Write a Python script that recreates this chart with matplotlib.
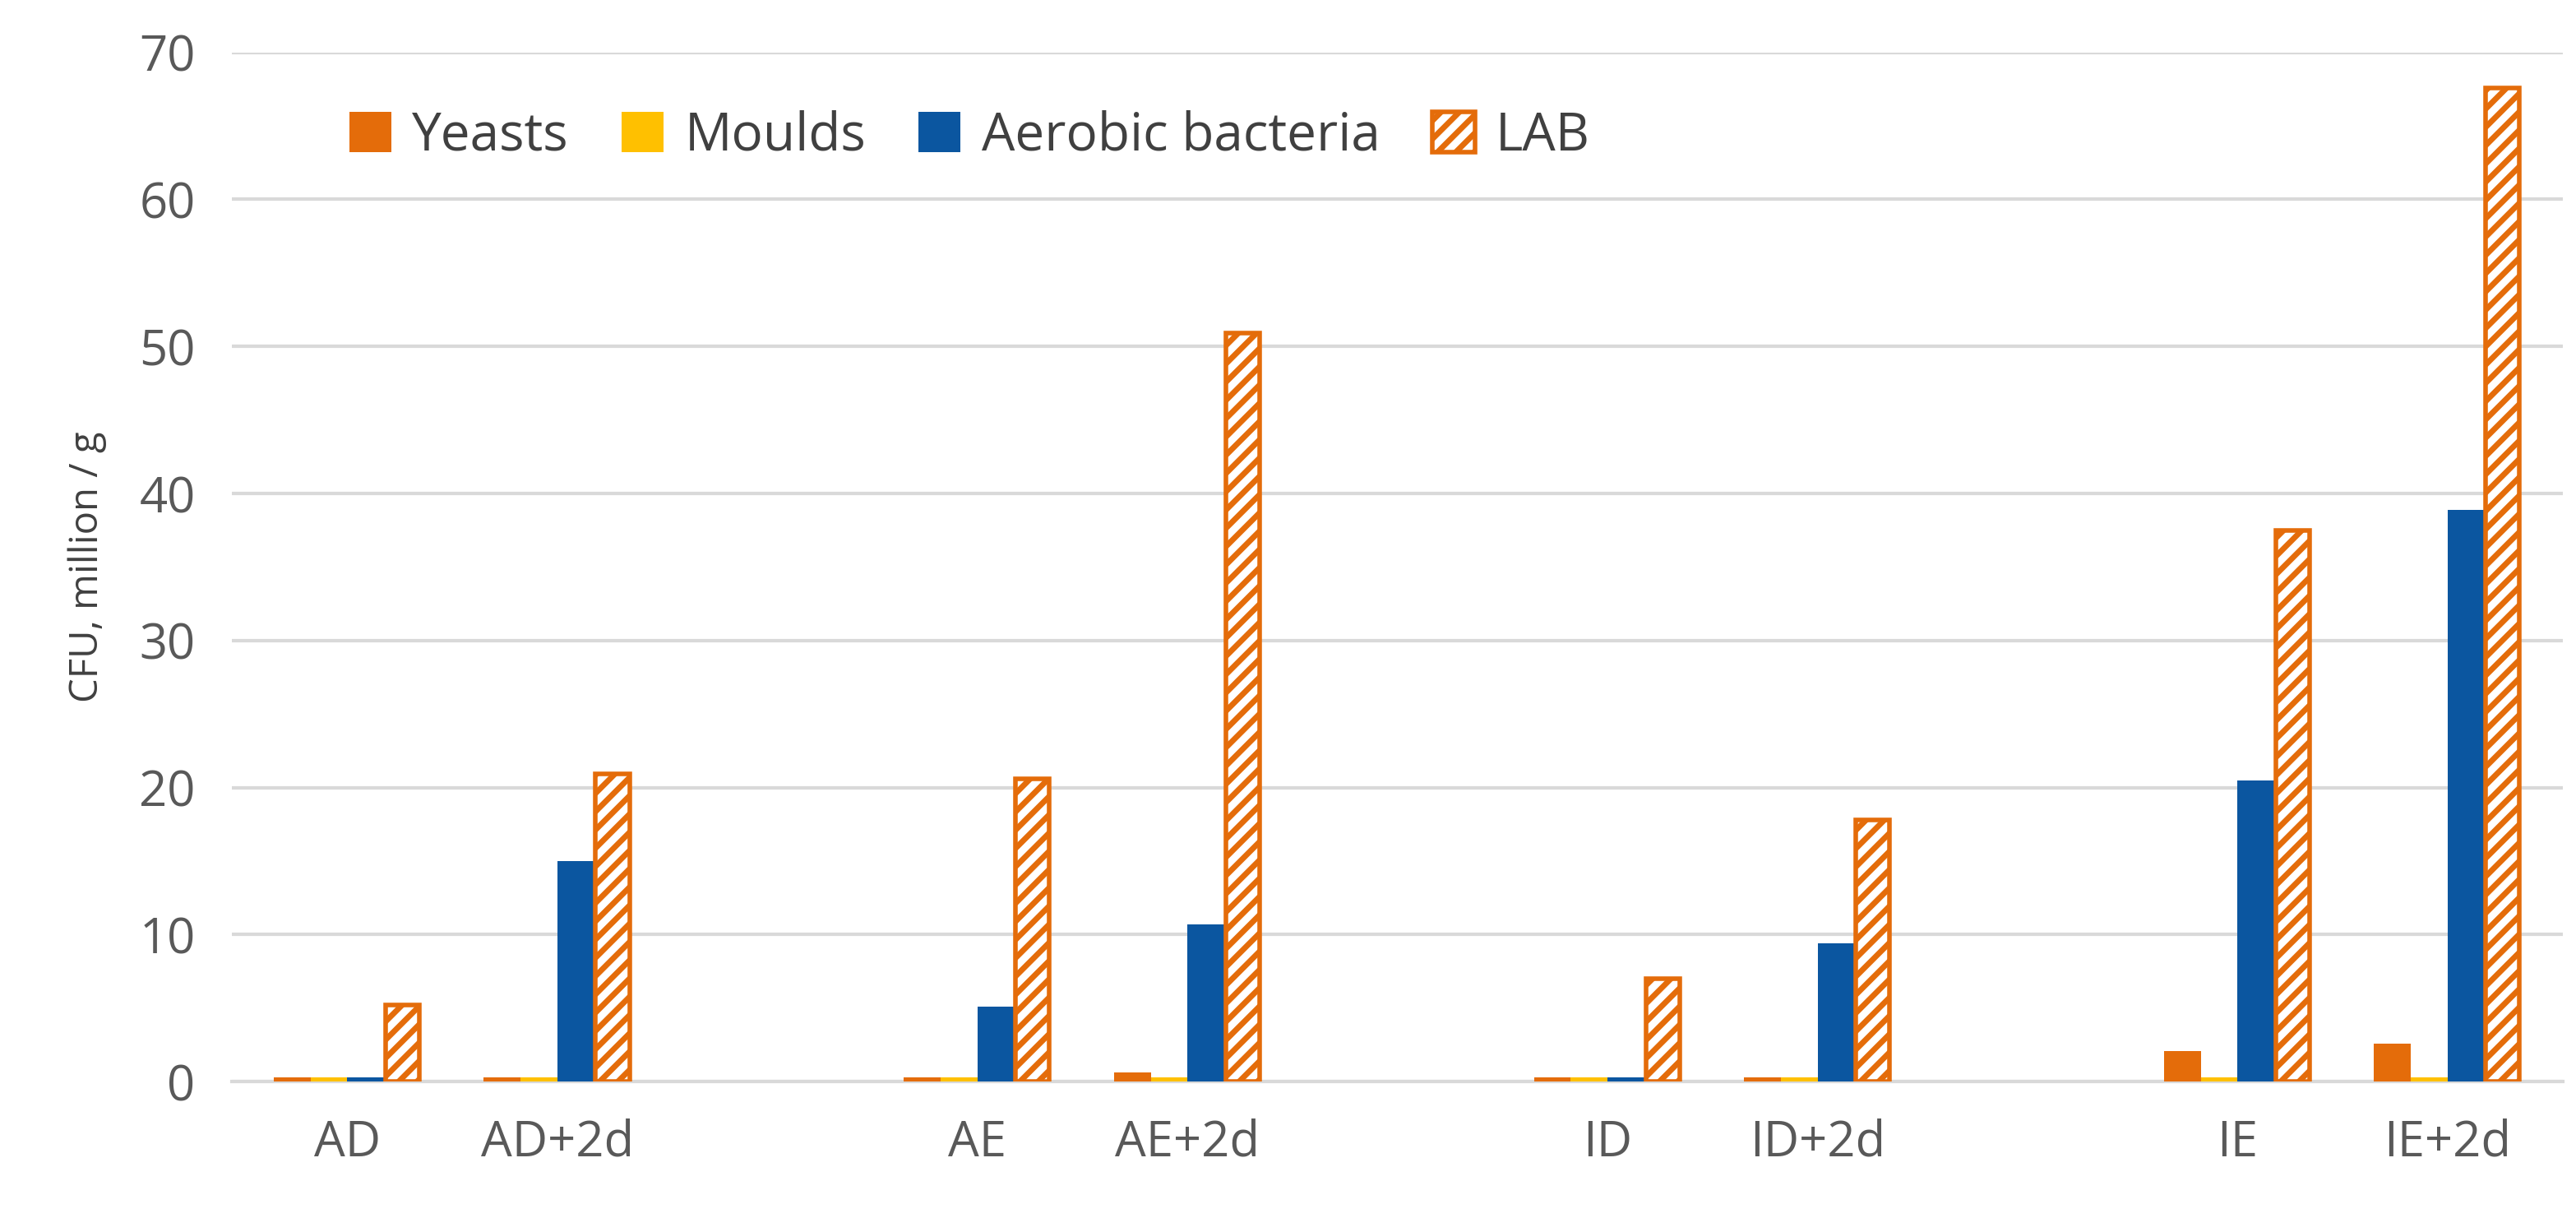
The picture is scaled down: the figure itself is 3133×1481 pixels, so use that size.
import numpy as np
import matplotlib.pyplot as plt

# --- data ---
categories = ["AD", "AD+2d", "", "AE", "AE+2d", "", "ID", "ID+2d", "", "IE", "IE+2d"]
yeasts = [0.3, 0.3, np.nan, 0.3, 0.6, np.nan, 0.3, 0.3, np.nan, 2.1, 2.6]
moulds = [0.3, 0.3, np.nan, 0.3, 0.3, np.nan, 0.3, 0.3, np.nan, 0.3, 0.3]
aerobic = [0.3, 15.0, np.nan, 5.1, 10.7, np.nan, 0.3, 9.4, np.nan, 20.5, 38.9]
lab = [5.2, 20.9, np.nan, 20.6, 50.9, np.nan, 7.0, 17.8, np.nan, 37.5, 67.6]

plt.rcParams['font.family'] = ['Open Sans', 'DejaVu Sans']
plt.rcParams['hatch.linewidth'] = 2.5

fig, ax = plt.subplots(figsize=(15.665, 7.405), dpi=200)
x = np.arange(len(categories))
w = 0.175
ax.bar(x - 1.5 * w, yeasts, w, color='#E46C0A', label='Yeasts', zorder=3)
ax.bar(x - 0.5 * w, moulds, w, color='#FFC000', label='Moulds', zorder=3)
ax.bar(x + 0.5 * w, aerobic, w, color='#0B56A0', label='Aerobic bacteria', zorder=3)
ax.bar(x + 1.5 * w, lab, w * 0.92, color='white', edgecolor='#E46C0A', hatch='///',
       linewidth=2, label='LAB', zorder=3)

ax.set_ylim(0, 70)
ax.set_yticks(range(0, 71, 10))
ax.set_xlim(-0.55, len(categories) - 0.45)
ax.set_xticks(x)
ax.set_xticklabels(categories)
ax.tick_params(length=0, labelsize=21.5, colors='#595959', pad=16)
ax.grid(axis='y', color='#D9D9D9', linewidth=1.5, zorder=0)
for s in ['top', 'right', 'left']:
    ax.spines[s].set_visible(False)
ax.spines['bottom'].set_color('#D9D9D9')
ax.spines['bottom'].set_linewidth(1.5)
ax.set_ylabel('CFU, million / g', fontsize=17, color='#404040', labelpad=14)

ax.legend(loc='upper left', ncol=4, frameon=False, fontsize=23, handlelength=0.8,
          handleheight=0.8, columnspacing=1.0, handletextpad=0.4,
          bbox_to_anchor=(0.03, 0.99), labelcolor='#404040')

plt.subplots_adjust(left=0.09, right=0.995, top=0.957, bottom=0.112)
plt.savefig('out.png')
